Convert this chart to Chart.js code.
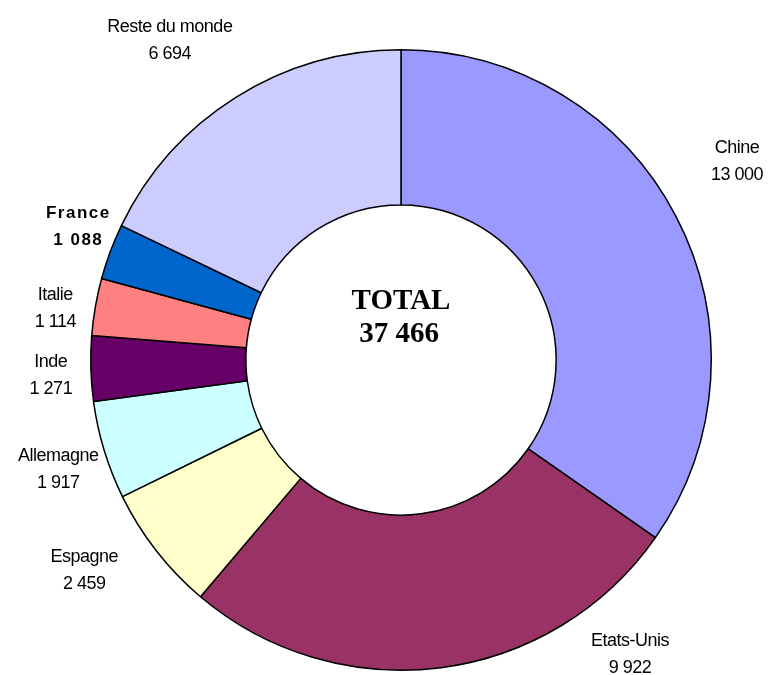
<!DOCTYPE html>
<html>
<head>
<meta charset="utf-8">
<script src="https://cdn.jsdelivr.net/npm/chart.js@4.4.0/dist/chart.umd.min.js"></script>
<style>
  html, body { margin: 0; padding: 0; background: #fff; }
  canvas { display: block; }
</style>
</head>
<body>
<canvas id="myChart" width="770" height="675"></canvas>
<script>
// data
const countries = ['Chine', 'Etats-Unis', 'Espagne', 'Allemagne', 'Inde', 'Italie', 'France', 'Reste du monde'];
const values = [13000, 9922, 2459, 1917, 1271, 1114, 1088, 6694];
const colors = ['#9999FF', '#993366', '#FFFFCC', '#CCFFFF', '#660066', '#FF8080', '#0066CC', '#CCCCFF'];
const totalValue = 37466;

// label nudges from the outer edge of each slice (x, y in px)
const labelNudge = [[61, -55], [189, -13], [-72, 20], [-46, 19], [-40, 7], [-40, 2], [-32, -25], [-66, -57]];

function fmt(n) {
    return String(n).replace(/\B(?=(\d{3})+(?!\d))/g, ' ');
}

const labelPlugin = {
    id: 'labels',
    afterDraw(chart) {
        const ctx = chart.ctx;
        const arcs = chart.getDatasetMeta(0).data;
        ctx.save();
        ctx.textAlign = 'center';
        ctx.textBaseline = 'middle';
        ctx.fillStyle = '#000';
        arcs.forEach((arc, i) => {
            const mid = (arc.startAngle + arc.endAngle) / 2;
            const x = arc.x + Math.cos(mid) * arc.outerRadius + labelNudge[i][0];
            const y = arc.y + Math.sin(mid) * arc.outerRadius + labelNudge[i][1];
            if (countries[i] === 'France') {
                ctx.font = 'bold 17px "Liberation Sans", Arial, sans-serif';
                ctx.letterSpacing = '1.5px';
            } else {
                ctx.font = '18px "Liberation Sans", Arial, sans-serif';
                ctx.letterSpacing = '-0.5px';
            }
            ctx.fillText(countries[i], x, y - 13.5);
            ctx.fillText(fmt(values[i]), x, y + 13.5);
        });

        // total in the hole
        const a = arcs[0];
        ctx.letterSpacing = '0px';
        ctx.font = 'bold 29px "Liberation Serif", "Times New Roman", serif';
        ctx.fillText('TOTAL', a.x, a.y - 58);
        ctx.fillText(fmt(totalValue), a.x - 2, a.y - 25);
        ctx.restore();
    }
};

new Chart(document.getElementById('myChart').getContext('2d'), {
    type: 'doughnut',
    data: {
        labels: countries,
        datasets: [{
            data: values,
            backgroundColor: colors,
            borderColor: '#000',
            borderWidth: 1.5
        }]
    },
    options: {
        responsive: false,
        animation: false,
        cutout: '50%',
        layout: { padding: { left: 90, right: 58, top: 49, bottom: 4 } },
        plugins: {
            legend: { display: false },
            tooltip: { enabled: false }
        }
    },
    plugins: [labelPlugin]
});
</script>
</body>
</html>
